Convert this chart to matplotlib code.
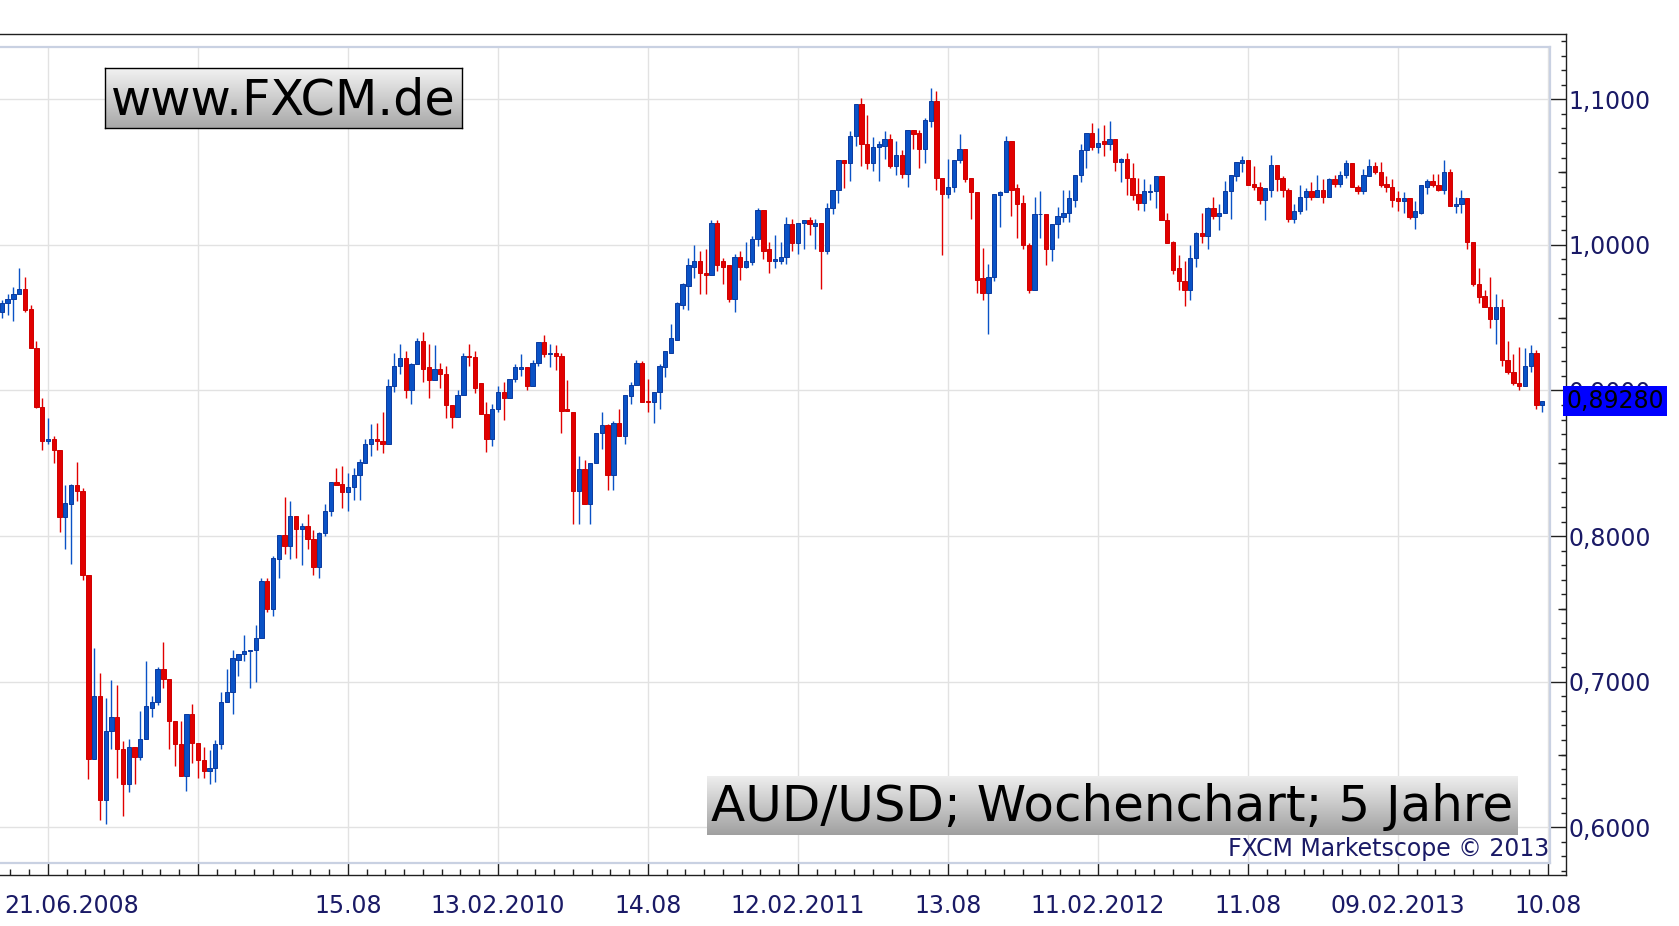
import numpy as np
import matplotlib
matplotlib.use("Agg")
import matplotlib.pyplot as plt
from matplotlib.colors import LinearSegmentedColormap
from matplotlib.ticker import FixedLocator, MultipleLocator, NullFormatter

W, H, DPI = 1679, 926, 100

# AUD/USD weekly candles, first week 21.06.2008
opens = [0.954, 0.960, 0.963, 0.966, 0.970, 0.956, 0.929, 0.889, 0.865, 0.867,
         0.859, 0.813, 0.822, 0.835, 0.831, 0.773, 0.647, 0.690, 0.619, 0.666,
         0.676, 0.654, 0.630, 0.655, 0.648, 0.661, 0.682, 0.686, 0.709, 0.702,
         0.673, 0.657, 0.635, 0.678, 0.658, 0.646, 0.639, 0.641, 0.657, 0.686,
         0.693, 0.715, 0.719, 0.721, 0.722, 0.730, 0.769, 0.750, 0.784, 0.801,
         0.793, 0.814, 0.805, 0.807, 0.798, 0.779, 0.802, 0.817, 0.837, 0.836,
         0.830, 0.834, 0.842, 0.850, 0.863, 0.867, 0.865, 0.863, 0.903, 0.917,
         0.922, 0.900, 0.918, 0.934, 0.916, 0.907, 0.915, 0.911, 0.890, 0.882,
         0.897, 0.924, 0.923, 0.905, 0.884, 0.867, 0.887, 0.899, 0.895, 0.908,
         0.915, 0.916, 0.903, 0.919, 0.933, 0.925, 0.926, 0.924, 0.887, 0.885,
         0.831, 0.846, 0.822, 0.850, 0.871, 0.876, 0.842, 0.878, 0.869, 0.896,
         0.904, 0.919, 0.893, 0.892, 0.899, 0.916, 0.926, 0.935, 0.959, 0.972,
         0.985, 0.989, 0.981, 0.979, 1.015, 0.989, 0.986, 0.963, 0.992, 0.985,
         0.988, 1.004, 1.024, 0.997, 0.989, 0.989, 0.992, 1.014, 1.001, 1.015,
         1.017, 1.013, 1.015, 0.996, 1.025, 1.038, 1.058, 1.056, 1.075, 1.097,
         1.069, 1.056, 1.067, 1.068, 1.073, 1.054, 1.062, 1.049, 1.079, 1.077,
         1.066, 1.085, 1.099, 1.046, 1.035, 1.040, 1.058, 1.066, 1.046, 1.036,
         0.977, 0.967, 0.978, 1.034, 1.036, 1.071, 1.039, 1.029, 1.000, 0.969,
         1.021, 1.021, 0.997, 1.014, 1.019, 1.022, 1.031, 1.048, 1.065, 1.077,
         1.067, 1.071, 1.069, 1.073, 1.057, 1.059, 1.046, 1.035, 1.029, 1.036,
         1.037, 1.047, 1.017, 1.002, 0.984, 0.975, 0.969, 0.991, 1.008, 1.006,
         1.025, 1.020, 1.022, 1.037, 1.047, 1.056, 1.058, 1.042, 1.040, 1.031,
         1.038, 1.055, 1.046, 1.038, 1.018, 1.023, 1.033, 1.037, 1.033, 1.038,
         1.033, 1.045, 1.042, 1.048, 1.056, 1.040, 1.037, 1.047, 1.054, 1.050,
         1.042, 1.040, 1.032, 1.030, 1.032, 1.019, 1.022, 1.040, 1.044, 1.041,
         1.038, 1.050, 1.027, 1.028, 1.032, 1.002, 0.973, 0.965, 0.957, 0.949,
         0.957, 0.921, 0.913, 0.905, 0.903, 0.917, 0.926, 0.890]
highs = [0.962, 0.966, 0.971, 0.984, 0.978, 0.959, 0.934, 0.895, 0.881, 0.869,
         0.859, 0.835, 0.836, 0.851, 0.833, 0.773, 0.723, 0.706, 0.689, 0.701,
         0.698, 0.659, 0.661, 0.655, 0.680, 0.714, 0.690, 0.710, 0.727, 0.702,
         0.673, 0.673, 0.678, 0.685, 0.658, 0.655, 0.653, 0.660, 0.693, 0.709,
         0.722, 0.719, 0.732, 0.722, 0.739, 0.771, 0.771, 0.786, 0.801, 0.827,
         0.824, 0.814, 0.809, 0.815, 0.804, 0.803, 0.822, 0.837, 0.847, 0.848,
         0.843, 0.847, 0.853, 0.867, 0.877, 0.878, 0.885, 0.908, 0.926, 0.932,
         0.927, 0.919, 0.936, 0.940, 0.932, 0.931, 0.919, 0.917, 0.890, 0.900,
         0.926, 0.932, 0.927, 0.905, 0.892, 0.891, 0.903, 0.906, 0.908, 0.918,
         0.925, 0.916, 0.921, 0.933, 0.938, 0.932, 0.931, 0.926, 0.907, 0.885,
         0.855, 0.852, 0.850, 0.871, 0.885, 0.877, 0.879, 0.887, 0.897, 0.906,
         0.921, 0.920, 0.908, 0.899, 0.918, 0.927, 0.946, 0.961, 0.974, 0.991,
         1.000, 0.996, 0.997, 1.017, 1.017, 0.991, 0.986, 0.994, 0.996, 1.002,
         1.006, 1.025, 1.024, 1.002, 1.007, 1.002, 1.019, 1.018, 1.015, 1.017,
         1.019, 1.018, 1.015, 1.029, 1.038, 1.058, 1.058, 1.078, 1.097, 1.101,
         1.089, 1.074, 1.071, 1.078, 1.076, 1.071, 1.065, 1.079, 1.079, 1.079,
         1.087, 1.108, 1.106, 1.046, 1.059, 1.058, 1.076, 1.066, 1.046, 1.036,
         0.998, 0.987, 1.035, 1.037, 1.075, 1.071, 1.042, 1.034, 1.001, 1.033,
         1.037, 1.021, 1.014, 1.026, 1.038, 1.038, 1.048, 1.069, 1.077, 1.084,
         1.080, 1.082, 1.085, 1.073, 1.060, 1.063, 1.056, 1.046, 1.045, 1.042,
         1.047, 1.047, 1.022, 1.003, 0.993, 0.989, 1.000, 1.009, 1.022, 1.026,
         1.033, 1.028, 1.044, 1.048, 1.057, 1.061, 1.058, 1.054, 1.043, 1.039,
         1.062, 1.055, 1.047, 1.039, 1.028, 1.041, 1.039, 1.043, 1.048, 1.045,
         1.046, 1.048, 1.051, 1.058, 1.056, 1.041, 1.052, 1.059, 1.057, 1.057,
         1.047, 1.045, 1.037, 1.036, 1.032, 1.030, 1.041, 1.045, 1.049, 1.049,
         1.058, 1.052, 1.033, 1.038, 1.032, 1.002, 0.984, 0.969, 0.978, 0.966,
         0.963, 0.934, 0.925, 0.930, 0.929, 0.931, 0.928, 0.893]
lows = [0.950, 0.952, 0.948, 0.966, 0.954, 0.929, 0.888, 0.859, 0.863, 0.850,
        0.803, 0.791, 0.781, 0.824, 0.770, 0.633, 0.647, 0.605, 0.602, 0.654,
        0.634, 0.608, 0.624, 0.630, 0.646, 0.661, 0.676, 0.684, 0.696, 0.654,
        0.642, 0.635, 0.625, 0.644, 0.634, 0.634, 0.630, 0.631, 0.654, 0.686,
        0.678, 0.704, 0.714, 0.696, 0.700, 0.730, 0.748, 0.745, 0.771, 0.788,
        0.784, 0.785, 0.780, 0.791, 0.773, 0.771, 0.800, 0.814, 0.835, 0.819,
        0.817, 0.825, 0.825, 0.850, 0.855, 0.859, 0.857, 0.863, 0.899, 0.911,
        0.895, 0.891, 0.918, 0.906, 0.895, 0.907, 0.902, 0.881, 0.874, 0.882,
        0.897, 0.917, 0.898, 0.884, 0.858, 0.862, 0.885, 0.880, 0.895, 0.906,
        0.910, 0.900, 0.903, 0.917, 0.923, 0.916, 0.914, 0.871, 0.886, 0.808,
        0.808, 0.822, 0.808, 0.850, 0.860, 0.832, 0.832, 0.869, 0.863, 0.891,
        0.904, 0.892, 0.885, 0.878, 0.887, 0.909, 0.926, 0.935, 0.956, 0.955,
        0.977, 0.966, 0.966, 0.979, 0.982, 0.973, 0.961, 0.954, 0.976, 0.984,
        0.986, 0.999, 0.990, 0.981, 0.984, 0.987, 0.987, 0.996, 0.994, 0.997,
        1.007, 0.997, 0.970, 0.994, 1.021, 1.029, 1.039, 1.044, 1.068, 1.054,
        1.052, 1.051, 1.044, 1.059, 1.053, 1.048, 1.046, 1.040, 1.066, 1.053,
        1.056, 1.081, 1.038, 0.993, 1.032, 1.036, 1.056, 1.043, 1.018, 0.967,
        0.962, 0.939, 0.975, 1.012, 1.036, 1.020, 1.005, 0.997, 0.967, 0.969,
        1.005, 0.986, 0.989, 1.005, 1.016, 1.016, 1.026, 1.043, 1.053, 1.065,
        1.063, 1.061, 1.065, 1.051, 1.043, 1.034, 1.031, 1.024, 1.023, 1.031,
        1.025, 1.017, 1.001, 0.980, 0.969, 0.958, 0.962, 0.985, 1.001, 0.997,
        1.018, 1.010, 1.022, 1.018, 1.044, 1.050, 1.041, 1.038, 1.028, 1.017,
        1.033, 1.037, 1.033, 1.016, 1.015, 1.021, 1.024, 1.031, 1.033, 1.029,
        1.033, 1.040, 1.040, 1.046, 1.040, 1.035, 1.035, 1.047, 1.049, 1.040,
        1.036, 1.026, 1.023, 1.022, 1.018, 1.011, 1.021, 1.035, 1.040, 1.037,
        1.035, 1.027, 1.022, 1.022, 0.997, 0.972, 0.960, 0.957, 0.943, 0.932,
        0.917, 0.911, 0.904, 0.900, 0.903, 0.913, 0.887, 0.885]
closes = [0.960, 0.963, 0.966, 0.970, 0.955, 0.929, 0.889, 0.865, 0.867, 0.859,
          0.813, 0.823, 0.835, 0.831, 0.773, 0.647, 0.690, 0.619, 0.666, 0.676,
          0.654, 0.630, 0.655, 0.648, 0.661, 0.683, 0.686, 0.709, 0.702, 0.673,
          0.657, 0.635, 0.678, 0.658, 0.646, 0.639, 0.641, 0.657, 0.686, 0.693,
          0.716, 0.719, 0.721, 0.722, 0.730, 0.769, 0.750, 0.785, 0.801, 0.793,
          0.814, 0.805, 0.807, 0.798, 0.779, 0.802, 0.817, 0.837, 0.835, 0.830,
          0.834, 0.842, 0.851, 0.863, 0.867, 0.865, 0.863, 0.903, 0.917, 0.922,
          0.900, 0.918, 0.934, 0.915, 0.907, 0.915, 0.911, 0.890, 0.882, 0.897,
          0.924, 0.923, 0.902, 0.884, 0.867, 0.887, 0.899, 0.895, 0.908, 0.916,
          0.916, 0.903, 0.919, 0.933, 0.925, 0.926, 0.924, 0.886, 0.886, 0.831,
          0.846, 0.822, 0.850, 0.871, 0.876, 0.842, 0.878, 0.869, 0.897, 0.904,
          0.919, 0.892, 0.892, 0.899, 0.917, 0.927, 0.936, 0.960, 0.973, 0.986,
          0.989, 0.981, 0.979, 1.015, 0.986, 0.985, 0.963, 0.992, 0.985, 0.989,
          1.004, 1.024, 0.996, 0.989, 0.990, 0.992, 1.014, 1.001, 1.015, 1.017,
          1.014, 1.015, 0.996, 1.025, 1.038, 1.058, 1.056, 1.075, 1.097, 1.069,
          1.056, 1.067, 1.069, 1.073, 1.054, 1.062, 1.049, 1.079, 1.076, 1.066,
          1.086, 1.099, 1.046, 1.035, 1.040, 1.058, 1.066, 1.045, 1.036, 0.976,
          0.967, 0.978, 1.035, 1.036, 1.071, 1.038, 1.028, 1.000, 0.969, 1.021,
          1.0215, 0.997, 1.014, 1.020, 1.022, 1.032, 1.048, 1.065, 1.077, 1.067,
          1.070, 1.069, 1.073, 1.057, 1.059, 1.046, 1.034, 1.029, 1.037, 1.037,
          1.047, 1.017, 1.001, 0.983, 0.975, 0.969, 0.991, 1.008, 1.006, 1.025,
          1.020, 1.022, 1.037, 1.048, 1.057, 1.058, 1.041, 1.040, 1.031, 1.039,
          1.055, 1.045, 1.038, 1.018, 1.023, 1.033, 1.037, 1.033, 1.038, 1.033,
          1.045, 1.042, 1.048, 1.056, 1.040, 1.037, 1.048, 1.054, 1.050, 1.041,
          1.040, 1.031, 1.030, 1.032, 1.019, 1.023, 1.041, 1.044, 1.041, 1.038,
          1.050, 1.027, 1.028, 1.032, 1.002, 0.973, 0.964, 0.957, 0.949, 0.957,
          0.921, 0.913, 0.905, 0.903, 0.917, 0.926, 0.890, 0.8928]

first_date = "21.06.2008"
date_ticks = [8, 34, 60, 86, 112, 138, 164, 190, 216, 242, 268]
date_labels = ["", "", "15.08", "13.02.2010", "14.08", "12.02.2011", "13.08",
               "11.02.2012", "11.08", "09.02.2013", "10.08"]
price_ticks = [0.6, 0.7, 0.8, 0.9, 1.0, 1.1]
last_price = "0,89280"

UP_FACE, UP_EDGE = "#0a52c6", "#0b3a9e"
DN_FACE, DN_EDGE = "#e10000", "#d00000"
NAVY = "#1a1a66"
FS = 17


def fig_box(x0, y0, x1, y1):
    return [x0 / W, 1 - y1 / H, (x1 - x0) / W, (y1 - y0) / H]


fig = plt.figure(figsize=(W / DPI, H / DPI), dpi=DPI)

# inner plot area (pixels) and its data range
in_px = (0, 46.7, 1550, 863)
out_px = (0, 34.3, 1566, 875)
xlim = (-0.32, 268.35)
ylim = (0.5755, 1.1361)
ux = (in_px[2] - in_px[0]) / (xlim[1] - xlim[0])
uy = (in_px[3] - in_px[1]) / (ylim[1] - ylim[0])
out_xlim = (xlim[0] - (in_px[0] - out_px[0]) / ux, xlim[1] + (out_px[2] - in_px[2]) / ux)
out_ylim = (ylim[0] - (out_px[3] - in_px[3]) / uy, ylim[1] + (in_px[1] - out_px[1]) / uy)

# outer frame with ticks and labels
ax_out = fig.add_axes(fig_box(*out_px))
ax_out.set_xlim(*out_xlim)
ax_out.set_ylim(*out_ylim)
ax_out.patch.set_alpha(0)
ax_out.spines["left"].set_visible(False)
for s in ("top", "right", "bottom"):
    ax_out.spines[s].set_color("#202020")
    ax_out.spines[s].set_linewidth(1.0)
ax_out.yaxis.tick_right()
ax_out.xaxis.set_major_locator(FixedLocator(date_ticks))
ax_out.set_xticklabels(date_labels)
ax_out.xaxis.set_minor_locator(MultipleLocator(3.25, offset=8))
ax_out.yaxis.set_major_locator(FixedLocator(price_ticks))
ax_out.set_yticklabels([f"{v:.4f}".replace(".", ",") for v in price_ticks])
ax_out.yaxis.set_minor_locator(MultipleLocator(0.01))
ax_out.xaxis.set_minor_formatter(NullFormatter())
ax_out.yaxis.set_minor_formatter(NullFormatter())
ax_out.tick_params(axis="x", which="major", direction="in", length=8.6, width=1,
                   color="#202020", pad=13.5, labelsize=FS, labelcolor=NAVY)
ax_out.tick_params(axis="x", which="minor", direction="in", length=4, width=1,
                   color="#202020")
ax_out.tick_params(axis="y", which="major", direction="in", length=11.5, width=1,
                   color="#202020", pad=2, labelsize=FS, labelcolor=NAVY,
                   left=False, right=True)
ax_out.tick_params(axis="y", which="minor", direction="in", length=3.4, width=1,
                   color="#202020", left=False, right=True)
mid_ticks = np.arange(0.65, 1.14, 0.1)
ax_out.hlines(mid_ticks, 1 - 8 / (out_px[2] - out_px[0]), 1, color="#202020",
              lw=1, transform=ax_out.get_yaxis_transform(), clip_on=False)
ax_out.annotate(first_date, xy=(0, 0), xycoords=("data", "axes fraction"),
                xytext=(1.4, -13.5), textcoords="offset points", ha="left", va="top",
                fontsize=FS, color=NAVY)
ax_out.text(1.0, closes[-1], last_price, transform=ax_out.get_yaxis_transform(),
            ha="left", va="center", fontsize=FS, color="black", clip_on=False, zorder=5,
            bbox=dict(boxstyle="square,pad=0.14", facecolor="#0000ff", edgecolor="none"))

# candles
ax = fig.add_axes(fig_box(*in_px))
ax.set_xlim(*xlim)
ax.set_ylim(*ylim)
o = np.array(opens)
c = np.array(closes)
hi = np.array(highs)
lo = np.array(lows)
idx = np.arange(len(c))
up = c >= o
face = np.where(up, UP_FACE, DN_FACE)
edge = np.where(up, UP_EDGE, DN_EDGE)
ax.vlines(idx, lo, hi, colors=face, linewidth=1.0, zorder=2)
ax.bar(idx, np.abs(c - o), bottom=np.minimum(o, c), width=0.74, color=face,
       edgecolor=edge, linewidth=0.7, zorder=3)

ax.set_xticks(date_ticks)
ax.set_yticks(price_ticks)
ax.grid(True, color="#e2e2e2", linewidth=1)
ax.set_axisbelow(True)
ax.tick_params(length=0, labelbottom=False, labelleft=False)
for s in ax.spines.values():
    s.set_color("#c9d1e2")
    s.set_linewidth(1.6)
ax.spines["left"].set_visible(False)

fig.text(1549 / W, 1 - 849 / H, "FXCM Marketscope \u00a9 2013", ha="right", va="center",
         fontsize=FS, color=NAVY)

grad = np.linspace(0, 1, 128).reshape(-1, 1)


def label_box(box, text, size, top, bottom, border):
    bx = fig.add_axes(fig_box(*box))
    cmap = LinearSegmentedColormap.from_list("g", [top, bottom])
    bx.imshow(grad, cmap=cmap, aspect="auto", extent=(0, 1, 0, 1))
    bx.set_xlim(0, 1)
    bx.set_ylim(0, 1)
    bx.set_xticks([])
    bx.set_yticks([])
    for s in bx.spines.values():
        s.set_visible(border)
        s.set_color("black")
        s.set_linewidth(1)
    bx.text(0.5, 0.47, text, ha="center", va="center", fontsize=size, color="black")


label_box((105.3, 68.3, 461.7, 128.3), "www.FXCM.de", 35.5, "#f2f2f2", "#a8a8a8", True)
label_box((706.6, 776, 1517, 835), "AUD/USD; Wochenchart; 5 Jahre", 36, "#eeeeee",
          "#a0a0a0", False)

fig.savefig("out.png", dpi=DPI)
